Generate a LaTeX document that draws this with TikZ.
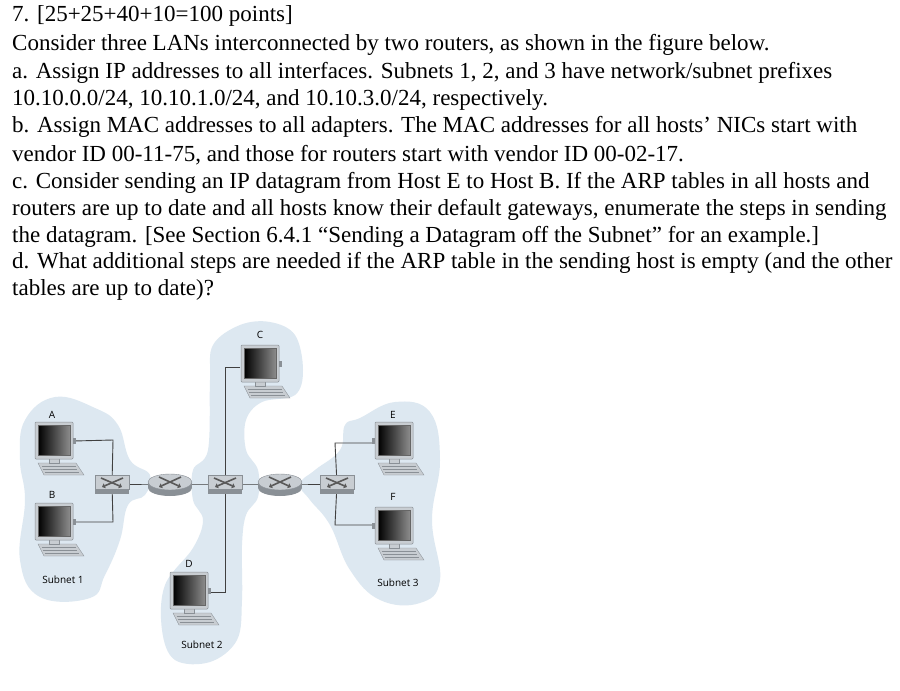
\documentclass[tikz,border=0pt]{standalone}
\usepackage{fontspec}
\setmainfont{Liberation Serif}
\newfontfamily\labfont{Open Sans}
\usetikzlibrary{shapes.geometric,calc,arrows.meta}
\definecolor{blob}{HTML}{DDE8F1}
\definecolor{dev}{HTML}{C8CDD2}
\definecolor{devdark}{HTML}{8A9096}
\tikzset{
  txt/.style={anchor=west,inner sep=0pt,font=\fontsize{23}{26}\selectfont},
  lab/.style={inner sep=0pt,font=\labfont\fontsize{10}{12}\selectfont},
  cable/.style={draw=black!75,line width=0.9pt},
  blobstyle/.style={fill=blob,draw=none},
  xarrow/.style={black!65,line width=1.6pt,-{Triangle[length=3pt,width=5pt]}},
  pics/computer/.style={code={
    \fill[dev,draw=devdark,line width=0.4pt] (-16,22) -- (22,22) -- (30,34) -- (-10,34) -- cycle;
    \foreach \k in {25,28,31}{\draw[devdark,line width=0.5pt] (-14+\k/2-11,\k) -- (20+\k/2-11,\k);}
    \fill[dev,draw=devdark,line width=0.4pt] (-5,17) rectangle (5,22);
    \fill[dev,draw=devdark,line width=0.5pt,rounded corners=1pt] (-19,-19) rectangle (19,18);
    \shade[left color=black,right color=black!45,draw=black!60] (-16,-16) rectangle (16,14);
  }},
  pics/switchbox/.style={code={
    \fill[devdark] (-17,5) rectangle (17,10);
    \fill[dev,draw=devdark,line width=0.4pt] (-17,-9) rectangle (17,5);
    \draw[xarrow] (-11,-6) -- (10,3);
    \draw[xarrow] (11,-6) -- (-10,3);
  }},
  pics/routerbox/.style={code={
    \fill[devdark] (-22,-1) rectangle (22,4) ;
    \fill[devdark] (0,4) ellipse (22 and 8);
    \fill[dev,draw=devdark,line width=0.4pt] (0,-2) ellipse (22 and 8);
    \draw[xarrow] (-11,-7) -- (11,3);
    \draw[xarrow] (11,-7) -- (-11,3);
  }}
}
\begin{document}
\begin{tikzpicture}[x=1pt,y=-1pt]
\useasboundingbox (0,0) rectangle (900,691);
\fill[white] (0,0) rectangle (900,691);
% text
\node[txt] (t1) at (12,16) {7. [25+25+40+10=100 points]};
\node[txt] (t2) at (12,45) {Consider three LANs interconnected by two routers, as shown in the figure below.};
\node[txt] (t3) at (12,73) {a. Assign IP addresses to all interfaces. Subnets 1, 2, and 3 have network/subnet prefixes};
\node[txt] (t4) at (12,100) {10.10.0.0/24, 10.10.1.0/24, and 10.10.3.0/24, respectively.};
\node[txt] (t5) at (12,127) {b. Assign MAC addresses to all adapters. The MAC addresses for all hosts’ NICs start with};
\node[txt] (t6) at (12,155) {vendor ID 00-11-75, and those for routers start with vendor ID 00-02-17.};
\node[txt] (t7) at (12,183) {c. Consider sending an IP datagram from Host E to Host B. If the ARP tables in all hosts and};
\node[txt] (t8) at (12,210) {routers are up to date and all hosts know their default gateways, enumerate the steps in sending};
\node[txt] (t9) at (12,237) {the datagram. [See Section 6.4.1 “Sending a Datagram off the Subnet” for an example.]};
\node[txt] (t10) at (12,263) {d. What additional steps are needed if the ARP table in the sending host is empty (and the other};
\node[txt] (t11) at (12,290) {tables are up to date)?};
% blobs
\path[blobstyle] plot[smooth cycle,tension=0.7] coordinates {(25,420) (55,397) (95,408) (118,425) (130,460) (150,475) (145,495) (128,505) (120,540) (105,575) (90,598) (40,597) (20,560) (25,500) (20,460)};
\path[blobstyle] plot[smooth cycle,tension=0.6] coordinates {(213,345) (240,325) (270,322) (295,335) (303,370) (295,395) (262,402) (246,420) (246,450) (258,470) (258,497) (246,515) (242,545) (242,600) (237,640) (210,662) (175,660) (162,630) (165,585) (193,548) (203,520) (193,500) (193,470) (208,450) (210,380)};
\path[blobstyle] plot[smooth cycle,tension=0.7] coordinates {(360,418) (395,402) (430,412) (440,460) (432,520) (440,580) (420,603) (380,600) (350,570) (330,525) (310,500) (300,484) (315,470) (340,450) (345,425)};
% coordinates
\coordinate (s1) at (112,484);
\coordinate (r1) at (170,484);
\coordinate (s2) at (225,484);
\coordinate (r2) at (280,484);
\coordinate (s3) at (337,484);
\coordinate (A) at (54,441);
\coordinate (B) at (54,522);
\coordinate (C) at (260,364);
\coordinate (D) at (189,591);
\coordinate (E) at (394,441);
\coordinate (F) at (394,526);
% cables
\draw[cable] (A) ++(20,0) -- (113,440) -- (s1);
\draw[cable] (B) ++(20,0) -- (113,522) -- (s1);
\draw[cable] (C) ++(-20,3) -- (225,367) -- (s2);
\draw[cable] (D) ++(20,1) -- (225,592) -- (s2);
\draw[cable] (E) ++(-20,2) -- (335,443) -- (s3);
\draw[cable] (F) ++(-20,-1) -- (335,525) -- (s3);
\draw[cable] (s1) -- (r1) -- (s2) -- (r2) -- (s3);
% devices
\foreach \p in {A,B,C,D}{\pic at (\p) {computer}; \fill[devdark] ($(\p)+(19,-3)$) rectangle ++(3,6);}
\foreach \p in {E,F}{\pic at (\p) {computer}; \fill[devdark] ($(\p)+(-22,-3)$) rectangle ++(3,6);}
\foreach \p in {s1,s2,s3}{\pic at (\p) {switchbox};}
\foreach \p in {r1,r2}{\pic at (\p) {routerbox};}
% labels
\node[lab] (lA) at (52,415) {A};
\node[lab] (lB) at (52,495) {B};
\node[lab] (lC) at (260,335) {C};
\node[lab] (lD) at (189,564) {D};
\node[lab] (lE) at (393,415) {E};
\node[lab] (lF) at (393,497) {F};
\node[lab] (n1) at (63,580) {Subnet 1};
\node[lab] (n2) at (202,645) {Subnet 2};
\node[lab] (n3) at (398,583) {Subnet 3};
\end{tikzpicture}
\end{document}
